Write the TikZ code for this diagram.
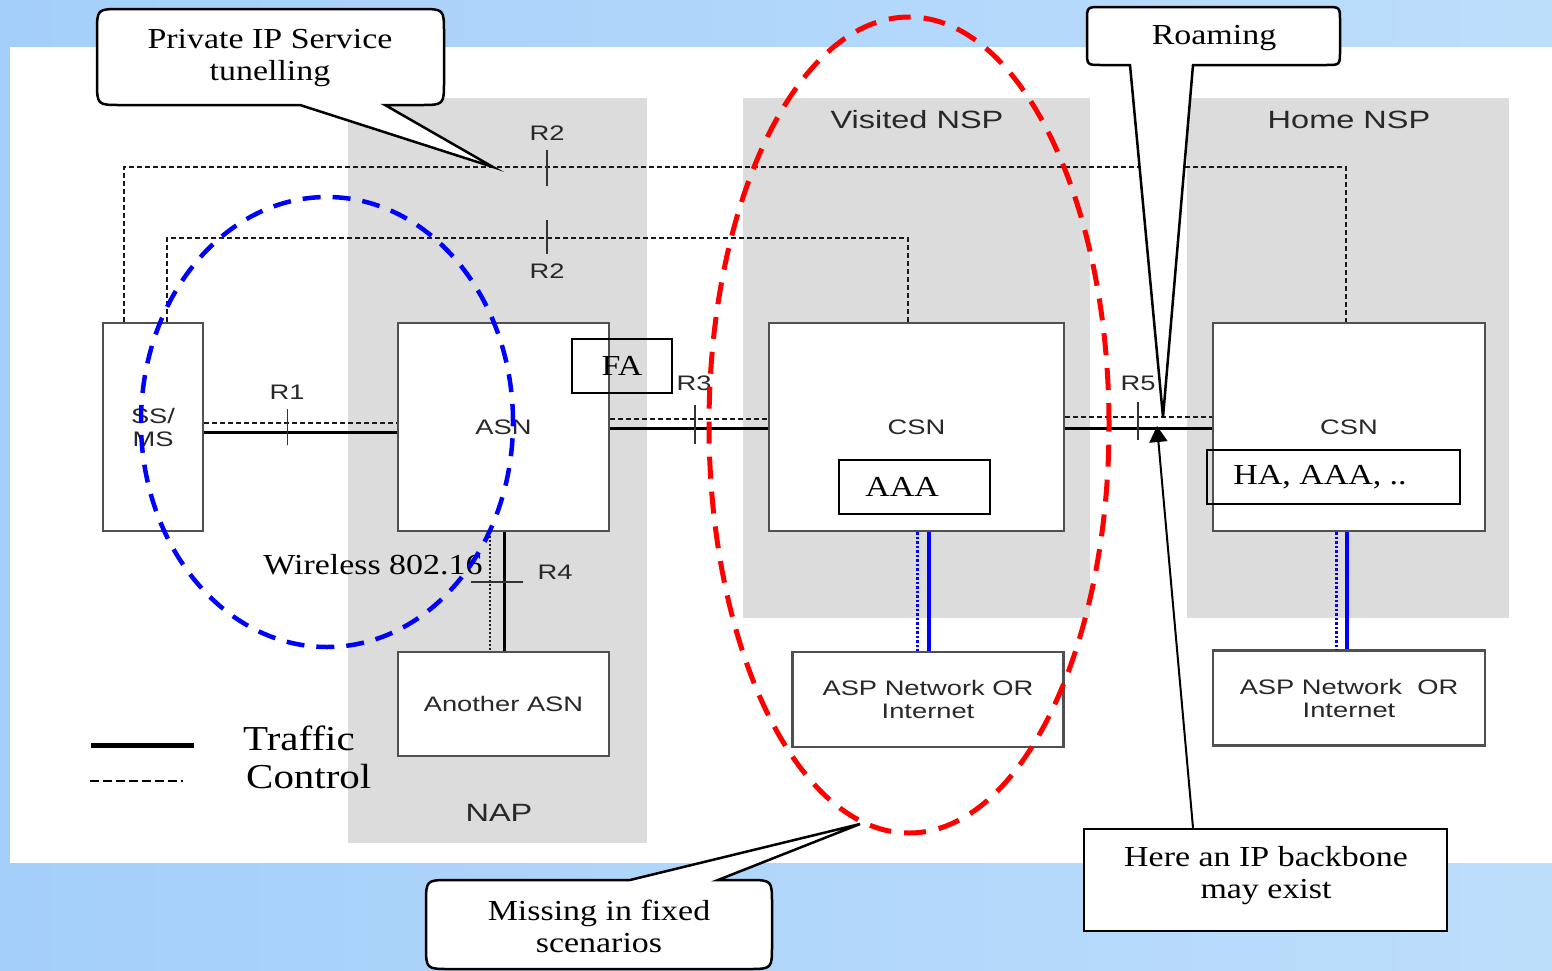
\documentclass[tikz,border=0pt]{standalone}
\usepackage{fontspec}
\setmainfont{Liberation Serif}
\newfontfamily\callfont[FakeStretch=1.17]{Liberation Serif}
\newfontfamily\lblfont[FakeStretch=1.3]{Liberation Sans}
\usetikzlibrary{arrows.meta}
\definecolor{bgleft}{RGB}{164,207,250}
\definecolor{bgright}{RGB}{189,222,251}
\definecolor{regiongray}{RGB}{220,220,220}
\definecolor{boxgray}{RGB}{80,80,80}
\definecolor{txtgray}{RGB}{40,40,40}
\newcommand{\lblsmall}{\lblfont\fontsize{21}{23}\selectfont}
\newcommand{\lblbig}{\lblfont\fontsize{25}{28}\selectfont}
\newcommand{\callsize}{\callfont\fontsize{29}{32}\selectfont}
\newcommand{\legsize}{\callfont\fontsize{35}{38}\selectfont}
\tikzset{
  netbox/.style={draw=boxgray, line width=2.2pt, fill=white, font=\lblsmall, text=txtgray, align=center, inner sep=0pt},
  blkbox/.style={draw=black, line width=2.5pt, font=\callsize, inner sep=0pt},
  traffic/.style={draw=black, line width=3pt},
  control/.style={draw=black!90, line width=2.5pt, dash pattern=on 5pt off 3pt},
  ctrlv/.style={draw=black!90, line width=2.8pt, dash pattern=on 2pt off 2pt},
  tickmark/.style={draw=black!80, line width=1.8pt},
  rlbl/.style={font=\lblsmall, text=txtgray, inner sep=0pt},
  regionlbl/.style={font=\lblbig, text=txtgray, inner sep=0pt},
  bluedot/.style={draw=blue, line width=3pt, dash pattern=on 2.5pt off 2pt},
  bluesolid/.style={draw=blue, line width=3.8pt},
  blueell/.style={draw=blue, line width=4.5pt, dash pattern=on 18pt off 12pt},
  redell/.style={draw=red, line width=5pt, dash pattern=on 22pt off 13pt},
  calloutshape/.style={draw=black, line width=2.5pt, fill=white},
  calltxt/.style={font=\callsize, align=center, inner sep=0pt},
  legtxt/.style={font=\legsize, inner sep=0pt}
}
\begin{document}
\begin{tikzpicture}[x=1pt,y=-1pt]
\useasboundingbox (0,0) rectangle (1552,970);
% background
\shade[left color=bgleft,right color=bgright] (0,0) rectangle (1552,970);
\fill[white] (10,47) rectangle (1552,863);
% regions
\fill[regiongray] (348,98) rectangle (647,843);
\fill[regiongray] (743,98) rectangle (1090,618);
\fill[regiongray] (1187,98) rectangle (1509,618);
\node[regionlbl] (napl) at (499,813) {NAP};
\node[regionlbl] (vnspl) at (917,120) {Visited NSP};
\node[regionlbl] (hnspl) at (1349,120) {Home NSP};
% boxes
\node[netbox, minimum width=100pt, minimum height=208pt] (ss) at (153,427) {SS/\\MS};
\node[netbox, minimum width=211pt, minimum height=208pt] (asn) at (503.5,427) {ASN};
\node[netbox, minimum width=295pt, minimum height=208pt] (vcsn) at (916.5,427) {CSN};
\node[netbox, minimum width=272pt, minimum height=208pt] (hcsn) at (1349,427) {CSN};
\node[netbox, minimum width=211pt, minimum height=104pt] (anasn) at (503.5,704) {Another ASN};
\node[netbox, minimum width=271pt, minimum height=95pt] (aspv) at (928,699.5) {ASP Network OR\\Internet};
\node[netbox, minimum width=272pt, minimum height=95pt] (asph) at (1349,698) {ASP Network\ \ OR\\Internet};
% connectors
\draw[traffic] ([yshift=-5pt]ss.east) -- ([yshift=-5pt]asn.west);
\draw[control] ([yshift=4pt]ss.east) -- ([yshift=4pt]asn.west);
\draw[traffic] ([yshift=-1pt]asn.east) -- ([yshift=-1pt]vcsn.west);
\draw[control] ([yshift=8pt]asn.east) -- ([yshift=8pt]vcsn.west);
\draw[traffic] ([yshift=-1pt]vcsn.east) -- ([yshift=-1pt]hcsn.west);
\draw[control] ([yshift=10pt]vcsn.east) -- ([yshift=10pt]hcsn.west);
\draw[traffic] ([xshift=0.5pt]asn.south) -- ([xshift=0.5pt]anasn.north);
\draw[ctrlv] ([xshift=-13.5pt]asn.south) -- ([xshift=-13.5pt]anasn.north);
\coordinate (r2hi) at (547,167);
\coordinate (r2lo) at (547,238);
\draw[control] ([xshift=22pt]ss.north west) |- (r2hi) -| ([xshift=-3pt]hcsn.north);
\draw[control] ([xshift=65pt]ss.north west) |- (r2lo) -| ([xshift=-8.5pt]vcsn.north);
% ticks
\draw[tickmark] (547,150) -- (547,186);
\draw[tickmark] (547,220) -- (547,254);
\draw[tickmark] (287.5,409) -- (287.5,445);
\draw[tickmark] (695,405) -- (695,444);
\draw[tickmark] (1138,402) -- (1138,440);
\draw[tickmark] (471,582) -- (523,582);
% reference point labels
\node[rlbl] (r2a) at (547,133) {R2};
\node[rlbl] (r2b) at (547,271) {R2};
\node[rlbl] (r1) at (287,392) {R1};
\node[rlbl] (r3) at (694,383) {R3};
\node[rlbl] (r5) at (1138,383) {R5};
\node[rlbl] (r4) at (555,572) {R4};
% blue links
\draw[bluedot] ([xshift=0.5pt]vcsn.south) -- ([xshift=0.5pt]vcsn.south |- aspv.north);
\draw[bluesolid] ([xshift=12.5pt]vcsn.south) -- ([xshift=12.5pt]vcsn.south |- aspv.north);
\draw[bluedot] ([xshift=-13pt]hcsn.south) -- ([xshift=-13pt]hcsn.south |- asph.north);
\draw[bluesolid] ([xshift=-2pt]hcsn.south) -- ([xshift=-2pt]hcsn.south |- asph.north);
% inner boxes
\node[blkbox, minimum width=100pt, minimum height=54pt] (fa) at (622,366) {FA};
\node[blkbox, minimum width=151pt, minimum height=54pt] (aaa) at (914.5,487) {\hspace*{-25pt}AAA};
\node[blkbox, minimum width=253pt, minimum height=54pt] (ha) at (1333.5,477) {\hspace*{-27pt}HA, AAA, ..};
\node[calltxt] (wl) at (373,565) {Wireless 802.16};
% ellipses
\draw[blueell] (327,422) ellipse [x radius=186pt, y radius=225pt];
\draw[redell] (909,425) ellipse [x radius=200pt, y radius=408pt];
% legend
\draw[line width=5pt] (91,745) -- (194,745);
\draw[line width=1.8pt, dash pattern=on 9pt off 4pt] (90,781) -- (183,781);
\node[legtxt, anchor=base west] (ltraf) at (243,750) {Traffic};
\node[legtxt, anchor=base west] (lctrl) at (246,788) {Control};
% callouts
\draw[calloutshape] (300,105) -- (121,105) .. controls (97,105) .. (97,81) -- (97,33) .. controls (97,9) .. (121,9)
  -- (420,9) .. controls (444,9) .. (444,33) -- (444,81) .. controls (444,105) .. (420,105) -- (385,105) -- (r2hi -| 493,0) -- cycle;
\node[calltxt] (cpriv) at (270,58) {Private IP Service\\tunelling};
\coordinate (roamtip) at (1163,417);
\draw[calloutshape] (1130,65) -- (1101,65) .. controls (1087,65) .. (1087,51) -- (1087,21) .. controls (1087,7) .. (1101,7)
  -- (1326,7) .. controls (1340,7) .. (1340,21) -- (1340,51) .. controls (1340,65) .. (1326,65) -- (1193,65) -- (roamtip) -- cycle;
\node[calltxt] (croam) at (1214,38) {Roaming};
\coordinate (misstip) at (860,824);
\draw[calloutshape] (718,880) -- (748,880) .. controls (772,880) .. (772,904) -- (772,945) .. controls (772,969) .. (748,969)
  -- (450,969) .. controls (426,969) .. (426,945) -- (426,904) .. controls (426,880) .. (450,880) -- (630,880) -- (misstip) -- cycle;
\node[calltxt] (cmiss) at (599,926) {Missing in fixed\\scenarios};
\node[draw, line width=2.5pt, fill=white, minimum width=363pt, minimum height=102pt] (ipb) at (1265.5,880) {};
\node[calltxt] (ipbt) at (1266,876) {Here an IP backbone\\may exist};
\coordinate (r5pt) at (1157,426);
\draw[line width=2pt, -{Triangle[length=16pt,width=18pt]}] ([xshift=-72.5pt]ipb.north) -- (r5pt);
\end{tikzpicture}
\end{document}
